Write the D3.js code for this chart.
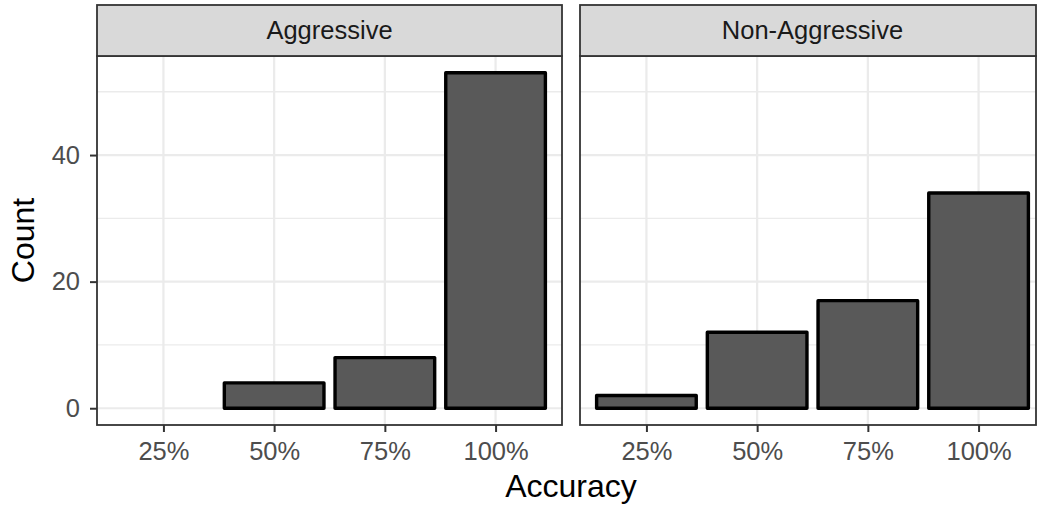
<!DOCTYPE html>
<html>
<head>
<meta charset="utf-8">
<script src="https://cdn.jsdelivr.net/npm/d3@7"></script>
<style>
  html, body { margin: 0; padding: 0; background: #fff; }
  svg { display: block; font-family: "Liberation Sans", Arial, sans-serif; }
</style>
</head>
<body>
<svg id="chart" width="1037" height="507"></svg>
<script>
// Accuracy categories shared by both facets
const categories = ["25%", "50%", "75%", "100%"];
// Facet names
const facets = ["Aggressive", "Non-Aggressive"];
// Counts per accuracy level for each facet
const aggressiveCounts = [0, 4, 8, 53];
const nonAggressiveCounts = [2, 12, 17, 34];
// Y axis tick values
const yMajorTicks = [0, 20, 40];
const yMinorTicks = [10, 30, 50];

const seriesByFacet = [aggressiveCounts, nonAggressiveCounts];

const svg = d3.select("#chart");

const panelTop = 56, panelBottom = 425, stripTop = 5;
const panelWidth = 465;
// second panel runs past the right edge of the canvas; its border is drawn at the visible edge
const panels = [
  { x0: 97, x1: 97 + panelWidth, edge: 562 },
  { x0: 580, x1: 580 + panelWidth, edge: 1036 }
];

const maxVal = d3.max(seriesByFacet.flat());
const pad = maxVal * 0.05;
const y = d3.scaleLinear()
  .domain([0 - pad, maxVal + pad])
  .range([panelBottom, panelTop]);

const gridColor = "#ebebeb";
const darkLine = "#333333";
const tickText = "#4d4d4d";

panels.forEach((p, i) => {
  const x = d3.scalePoint()
    .domain(categories)
    .range([p.x0, p.x1])
    .padding(0.6);
  const barW = x.step() * 0.9;
  const right = p.edge;

  const g = svg.append("g");

  // panel background
  g.append("rect")
    .attr("x", p.x0).attr("y", panelTop)
    .attr("width", right - p.x0).attr("height", panelBottom - panelTop)
    .attr("fill", "#fff");

  // minor grid
  g.selectAll(".ymin").data(yMinorTicks).join("line")
    .attr("x1", p.x0).attr("x2", right)
    .attr("y1", d => y(d)).attr("y2", d => y(d))
    .attr("stroke", gridColor).attr("stroke-width", 1.3);

  // major grid
  g.selectAll(".ymaj").data(yMajorTicks).join("line")
    .attr("x1", p.x0).attr("x2", right)
    .attr("y1", d => y(d)).attr("y2", d => y(d))
    .attr("stroke", gridColor).attr("stroke-width", 2.2);
  g.selectAll(".xmaj").data(categories).join("line")
    .attr("x1", d => x(d)).attr("x2", d => x(d))
    .attr("y1", panelTop).attr("y2", panelBottom)
    .attr("stroke", gridColor).attr("stroke-width", 2.2);

  // bars
  const vals = seriesByFacet[i];
  g.selectAll(".bar").data(categories.map((c, k) => ({ c, v: vals[k] })).filter(d => d.v > 0))
    .join("rect")
    .attr("x", d => x(d.c) - barW / 2)
    .attr("width", barW)
    .attr("y", d => y(d.v))
    .attr("height", d => y(0) - y(d.v))
    .attr("fill", "#595959")
    .attr("stroke", "#000")
    .attr("stroke-width", 3.4)
    .attr("stroke-linejoin", "round");

  // panel border
  g.append("rect")
    .attr("x", p.x0).attr("y", panelTop)
    .attr("width", right - p.x0).attr("height", panelBottom - panelTop)
    .attr("fill", "none").attr("stroke", darkLine).attr("stroke-width", 1.8);

  // strip
  g.append("rect")
    .attr("x", p.x0).attr("y", stripTop)
    .attr("width", right - p.x0).attr("height", panelTop - stripTop)
    .attr("fill", "#d9d9d9").attr("stroke", darkLine).attr("stroke-width", 1.8);
  g.append("text")
    .attr("x", (p.x0 + p.x1) / 2).attr("y", 39)
    .attr("text-anchor", "middle")
    .attr("font-size", 25.5).attr("fill", "#1a1a1a")
    .text(facets[i]);

  // x axis
  const xAxis = g.append("g")
    .attr("transform", `translate(0,${panelBottom})`)
    .call(d3.axisBottom(x).tickSize(7).tickPadding(10));
  xAxis.select(".domain").remove();
  xAxis.selectAll(".tick line").attr("stroke", darkLine).attr("stroke-width", 2);
  xAxis.selectAll(".tick text")
    .attr("font-size", 25.5).attr("fill", tickText)
    .attr("font-family", "Liberation Sans, Arial, sans-serif");

  // y axis on first panel only
  if (i === 0) {
    const yAxis = g.append("g")
      .attr("transform", `translate(${p.x0},0)`)
      .call(d3.axisLeft(y).tickValues(yMajorTicks).tickSize(7).tickPadding(10));
    yAxis.select(".domain").remove();
    yAxis.selectAll(".tick line").attr("stroke", darkLine).attr("stroke-width", 2);
    yAxis.selectAll(".tick text")
      .attr("font-size", 25.5).attr("fill", tickText)
      .attr("font-family", "Liberation Sans, Arial, sans-serif");
  }
});

// axis titles
svg.append("text")
  .attr("x", (panels[0].x0 + panels[1].x1) / 2).attr("y", 497)
  .attr("text-anchor", "middle").attr("font-size", 32).attr("fill", "#000")
  .text("Accuracy");
svg.append("text")
  .attr("transform", `translate(34,${(panelTop + panelBottom) / 2}) rotate(-90)`)
  .attr("text-anchor", "middle").attr("font-size", 32).attr("fill", "#000")
  .text("Count");
</script>
</body>
</html>
